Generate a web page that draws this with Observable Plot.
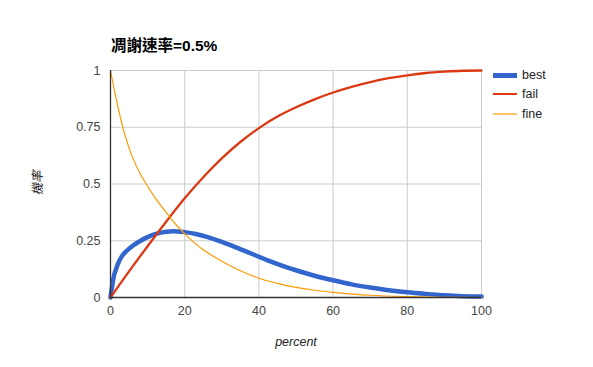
<!DOCTYPE html>
<html><head><meta charset="utf-8">
<script src="https://cdn.jsdelivr.net/npm/d3@7"></script>
<script src="https://cdn.jsdelivr.net/npm/@observablehq/plot@0.6"></script>
<style>
body{margin:0;background:#fff;font-family:Arial,"Liberation Sans",sans-serif}
#wrap{position:relative;width:593px;height:367px;overflow:hidden}
.ov{position:absolute;white-space:nowrap;color:#222}
#title{left:111px;top:33px;font-size:15.5px;font-weight:bold;color:#000;font-family:Arial,"Liberation Sans","Noto Sans CJK TC",sans-serif}
#xlab{left:296px;top:335px;transform:translateX(-50%);font-size:12.5px;font-style:italic}
#ylab{left:36px;top:183px;transform:translate(-50%,-50%) rotate(-90deg);font-size:12.5px;font-style:italic;font-family:Arial,"Noto Sans CJK TC",sans-serif}
.lg{position:absolute;left:493px;height:20px;display:flex;align-items:center;font-size:12.5px;color:#222}
.sw{width:24px;margin-right:5px}
</style></head>
<body><div id="wrap"></div>
<script>
const series = ["best","fail","fine"];
const colors = ["#3366cc","#dc3912","#ff9900"];
const xTicks = [0,20,40,60,80,100];
const yTicks = [0,0.25,0.5,0.75,1];
const titleText = "凋謝速率=0.5%";
const xLabel = "percent";
const yLabel = "機率";

const bestX = [0,0.4,1,1.5,2,3,4,6,8,10,12,14,16,18,20,23,26,30,34,38,42,46,50,55,60,65,70,75,80,85,90,95,100];
const bestY = [0,0.045,0.1,0.125,0.148,0.18,0.2,0.228,0.249,0.266,0.279,0.287,0.291,0.291,0.288,0.28,0.267,0.245,0.22,0.193,0.166,0.142,0.12,0.096,0.076,0.058,0.044,0.032,0.023,0.016,0.01,0.006,0.004];
const failX = [0,5,10,15,20,25,30,35,40,45,50,55,60,65,70,75,80,85,90,95,100];
const failY = [0,0.115,0.226,0.334,0.437,0.53,0.613,0.685,0.746,0.797,0.838,0.873,0.903,0.928,0.949,0.966,0.979,0.989,0.995,0.999,1];
const fineX = [0,2,4,6,8,10,12,15,18,21,25,30,35,40,45,50,55,60,70,80,90,100];
const fineY = [1,0.84,0.71,0.615,0.545,0.49,0.44,0.375,0.315,0.265,0.21,0.16,0.118,0.085,0.062,0.045,0.032,0.023,0.01,0.004,0.001,0];

const rows = (xs, ys) => xs.map((x,i)=>({x, y: ys[i]}));
const best = rows(bestX,bestY), fail = rows(failX,failY), fine = rows(fineX,fineY);

const chart = Plot.plot({
  width:593, height:367,
  marginLeft:110, marginRight:112, marginTop:70, marginBottom:70,
  style:{fontFamily:"Arial, 'Liberation Sans', sans-serif", fontSize:"12.5px", color:"#444", background:"#fff"},
  x:{domain:[0,100]},
  y:{domain:[0,1]},
  marks:[
    Plot.ruleX(xTicks,{stroke:"#cccccc", strokeWidth:1}),
    Plot.ruleY(yTicks,{stroke:"#cccccc", strokeWidth:1}),
    Plot.axisX({ticks:xTicks, tickSize:0, tickPadding:9, label:null, tickFormat:d=>String(d), fill:"#444"}),
    Plot.axisY({ticks:yTicks, tickSize:0, tickPadding:10, label:null, tickFormat:d=>String(d), fill:"#444"}),
    Plot.line(best,{x:"x", y:"y", stroke:colors[0], strokeWidth:4.5, curve:"catmull-rom"}),
    Plot.line(fail,{x:"x", y:"y", stroke:colors[1], strokeWidth:2.3, curve:"catmull-rom"}),
    Plot.line(fine,{x:"x", y:"y", stroke:colors[2], strokeWidth:1.2, curve:"catmull-rom"}),
    Plot.ruleY([0],{stroke:"#333", strokeWidth:1.3}),
    Plot.ruleX([0],{stroke:"#333", strokeWidth:1.3})
  ]
});
const wrap = document.getElementById("wrap");
wrap.appendChild(chart);
function add(cls, id, text){const d=document.createElement("div");d.className=cls;if(id)d.id=id;d.textContent=text;wrap.appendChild(d);return d;}
add("ov","title",titleText);
add("ov","xlab",xLabel);
add("ov","ylab",yLabel);
const swH = [5,2,2], swC = [colors[0], colors[1], "#ffc46b"];
series.forEach((s,i)=>{
  const d=document.createElement("div"); d.className="lg"; d.style.top=(65+i*19.3)+"px";
  const sw=document.createElement("div"); sw.className="sw"; sw.style.height=swH[i]+"px"; sw.style.background=swC[i];
  const t=document.createElement("span"); t.textContent=s;
  d.appendChild(sw); d.appendChild(t); wrap.appendChild(d);
});
</script></body></html>
